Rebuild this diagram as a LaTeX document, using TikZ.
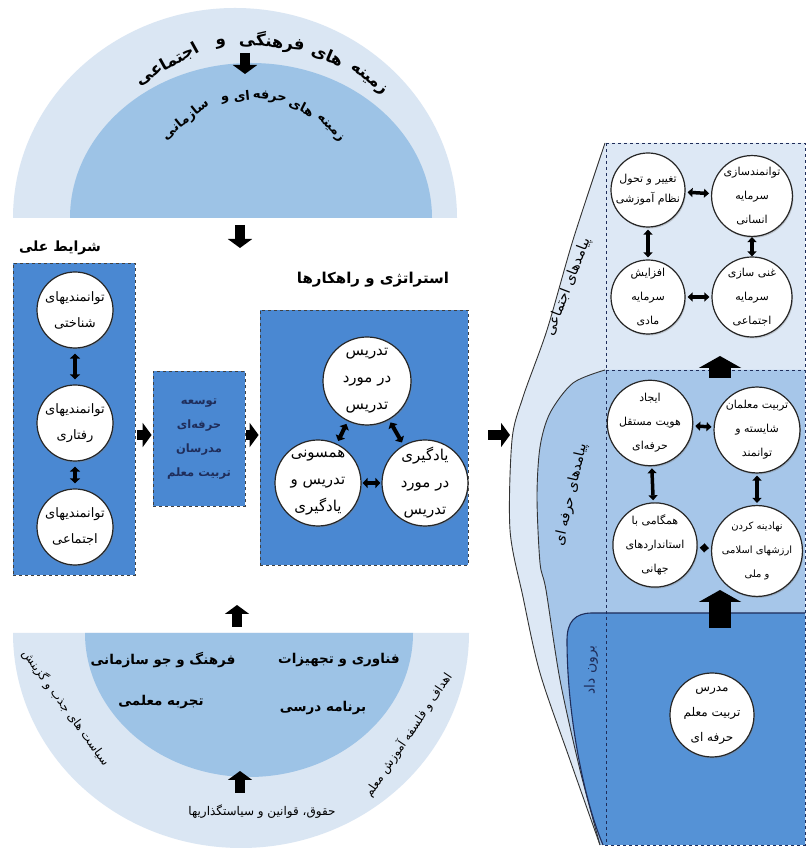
\documentclass[tikz,border=0pt]{standalone}
\usepackage{fontspec}
\usetikzlibrary{arrows.meta,calc,shadows}
\TeXXeTstate=1
\newfontfamily\farsifont[Script=Arabic]{DejaVu Sans}
\newcommand{\FA}[1]{{\farsifont\beginR #1\endR}}
\newcommand{\FB}[1]{{\farsifont\bfseries\beginR #1\endR}}
\definecolor{ringlight}{HTML}{DAE6F3}
\definecolor{ringmed}{HTML}{9DC3E6}
\definecolor{boxblue}{HTML}{4A88D2}
\definecolor{panelmid}{HTML}{A6C6E9}
\definecolor{paneltop}{HTML}{DDE8F5}
\definecolor{panelblue}{HTML}{5592D6}
\definecolor{navy}{HTML}{1F2D5A}
\begin{document}
\begin{tikzpicture}[x=1pt,y=1pt,
  blk/.style={line width=10pt,-{Triangle[width=24pt,length=9pt]}},
  bigup/.style={line width=22pt,-{Triangle[width=42pt,length=12pt]}},
  dbl/.style={line width=4pt,{Triangle[width=10pt,length=5pt]}-{Triangle[width=10pt,length=5pt]},shorten <=5pt,shorten >=5pt},
  dbls/.style={line width=3.5pt,{Triangle[width=9pt,length=5pt]}-{Triangle[width=9pt,length=5pt]},shorten <=2pt,shorten >=2pt},
  panelbox/.style={draw=black!75,dashed,fill=boxblue,line width=0.8pt,inner sep=0pt},
  circ/.style={circle,fill=white,draw=black!85,line width=1.2pt,inner sep=0pt,align=center,
    drop shadow={opacity=0.35,shadow xshift=1pt,shadow yshift=-1.5pt}},
  curveline/.style={draw=black!80,line width=0.9pt},
  dashline/.style={dashed,draw=navy,line width=0.8pt},
  outw/.style={font=\bfseries\fontsize{16.5}{19}\selectfont,inner sep=0pt},
  inw/.style={font=\bfseries\fontsize{13}{15}\selectfont,inner sep=0pt},
  ]
\useasboundingbox (0,0) rectangle (807,848);
\fill[white] (0,0) rectangle (807,848);

% ---------- top half disk ----------
\fill[ringlight] (13,630) arc[start angle=180,end angle=0,x radius=222,y radius=210] -- cycle;
\fill[ringmed] (70,630) arc[start angle=180,end angle=0,x radius=181,y radius=155] -- cycle;
\begin{scope}[shift={(256,624)}]
  \node[outw,rotate=-38] (w1) at (52:183) {\FB{زمینه}};
  \node[outw,rotate=-23] (w2) at (67:183) {\FB{های}};
  \node[outw,rotate=-5] (w3) at (85:183) {\FB{فرهنگی}};
  \node[outw,rotate=11] (w4) at (101:183) {\FB{و}};
  \node[outw,rotate=29] (w5) at (119:183) {\FB{اجتماعی}};
\end{scope}
\begin{scope}[shift={(253,645)}]
  \node[inw,rotate=-46] (v1) at (44:107) {\FB{زمینه}};
  \node[inw,rotate=-27] (v2) at (63:107) {\FB{های}};
  \node[inw,rotate=-9] (v3) at (81:107) {\FB{حرفه}};
  \node[inw,rotate=6] (v4) at (96:107) {\FB{ای}};
  \node[inw,rotate=15] (v5) at (105:107) {\FB{و}};
  \node[inw,rotate=39] (v6) at (129:107) {\FB{سازمانی}};
\end{scope}
\coordinate (ta1) at (245,795); \coordinate (ta2) at (245,774);
\draw[blk] (ta1) -- (ta2);
\coordinate (tb1) at (240,623); \coordinate (tb2) at (240,600);
\draw[blk] (tb1) -- (tb2);

% ---------- left column ----------
\node[font=\bfseries\fontsize{14}{17}\selectfont] (t1) at (60,600) {\FB{شرایط علی}};
\node[panelbox,minimum width=122pt,minimum height=312pt] (lbox) at (74,429) {};
\begin{scope}[every node/.append style={font=\fontsize{13}{26}\selectfont}]
  \node[circ,minimum size=76pt] (c1) at (75,538) {\FA{توانمندیهای}\\\FA{شناختی}};
  \node[circ,minimum size=76pt] (c2) at (75,425) {\FA{توانمندیهای}\\\FA{رفتاری}};
  \node[circ,minimum size=76pt] (c3) at (75,321) {\FA{توانمندیهای}\\\FA{اجتماعی}};
\end{scope}
\draw[dbl] (c1) -- (c2);
\draw[dbl] (c2) -- (c3);

\coordinate (row) at (0,413);
\node[panelbox,minimum width=92pt,minimum height=135pt,text=navy,align=center,
  font=\bfseries\fontsize{11.5}{24}\selectfont] (mbox) at (199,409)
  {\FB{توسعه}\\\FB{حرفه‌ای}\\\FB{مدرسان}\\\FB{تربیت معلم}};
\draw[blk,shorten <=2pt,shorten >=1pt] (lbox.east |- row) -- (mbox.west |- row);

% ---------- strategies ----------
\node[font=\bfseries\fontsize{15}{18}\selectfont] (t2) at (373,568) {\FB{استراتژی و راهکارها}};
\node[panelbox,minimum width=208pt,minimum height=255pt] (sbox) at (364,410.5) {};
\draw[blk,shorten <=1pt,shorten >=1pt] (mbox.east |- row) -- (sbox.west |- row);
\begin{scope}[every node/.append style={font=\fontsize{15}{27}\selectfont}]
  \node[circ,minimum size=88pt] (s1) at (367,467) {\FA{تدریس}\\\FA{در مورد}\\\FA{تدریس}};
  \node[circ,minimum size=86pt] (s2) at (318,365) {\FA{همسونی}\\\FA{تدریس و}\\\FA{یادگیری}};
  \node[circ,minimum size=86pt] (s3) at (425,365) {\FA{یادگیری}\\\FA{در مورد}\\\FA{تدریس}};
\end{scope}
\draw[dbl,shorten <=3pt,shorten >=3pt] (s1) -- (s2);
\draw[dbl,shorten <=3pt,shorten >=3pt] (s1) -- (s3);
\draw[dbl,shorten <=1pt,shorten >=1pt] (s2) -- (s3);

% ---------- right panel ----------
\fill[paneltop] (805,705) -- plot[smooth] coordinates {(605,705) (573,608) (547,518) (523,451) (512,408) (510,318) (523,251) (540,175) (570,88) (600,3)} -- (805,3) -- cycle;
\draw[curveline] plot[smooth] coordinates {(605,705) (573,608) (547,518) (523,451) (512,408) (510,318) (523,251) (540,175) (570,88) (600,3)};
\fill[panelmid] (805,478) -- plot[smooth] coordinates {(605,478) (573,465) (550,435) (540,401) (537,351) (540,285) (546,258) (560,168) (580,78) (600,3)} -- (805,3) -- cycle;
\draw[curveline] plot[smooth] coordinates {(605,478) (573,465) (550,435) (540,401) (537,351) (540,285) (546,258) (560,168) (580,78) (600,3)};
\fill[panelblue] (805,235) -- (592,235) .. controls (575,235) and (567,226) .. (567,208) .. controls (567,130) and (585,45) .. (603,3) -- (805,3) -- cycle;
\draw[navy,line width=1.1pt] (805,235) -- (592,235) .. controls (575,235) and (567,226) .. (567,208) .. controls (567,130) and (585,45) .. (603,3);
\draw[dashline] (606,705) -- (805,705) -- (805,3) -- (603,3);
\draw[dashline] (606,705) -- (606,3);
\draw[dashline] (606,478) -- (805,478);

\coordinate (a5s) at (488,413); \coordinate (rp) at (510,413);
\draw[blk] (a5s) -- (rp);

\node[font=\fontsize{14}{16}\selectfont,rotate=69] (l1) at (568,561) {\FA{پیامدهای اجتماعی}};
\node[font=\fontsize{14}{16}\selectfont,rotate=77] (l2) at (571,353) {\FA{پیامدهای حرفه ای}};
\node[font=\fontsize{14}{16}\selectfont,rotate=90,text=navy] (l3) at (591,178) {\FA{برون داد}};

\begin{scope}[every node/.append style={font=\fontsize{11}{24}\selectfont}]
  \node[circ,minimum size=74pt,font=\fontsize{11}{20}\selectfont] (r1) at (648,658) {\FA{تغییر و تحول}\\\FA{نظام آموزشی}};
  \node[circ,minimum size=80pt] (r2) at (752,652) {\FA{توانمندسازی}\\\FA{سرمایه}\\\FA{انسانی}};
  \node[circ,minimum size=74pt] (r3) at (648,551) {\FA{افزایش}\\\FA{سرمایه}\\\FA{مادی}};
  \node[circ,minimum size=80pt] (r4) at (752,551) {\FA{غنی سازی}\\\FA{سرمایه}\\\FA{اجتماعی}};
  \node[circ,minimum size=76pt] (m1) at (650,425) {\FA{ایجاد}\\\FA{هویت مستقل}\\\FA{حرفه‌ای}};
  \node[circ,minimum size=80pt] (m2) at (757,418) {\FA{تربیت معلمان}\\\FA{شایسته و}\\\FA{توانمند}};
  \node[circ,minimum size=74pt] (m3) at (655,303) {\FA{همگامی با}\\\FA{استانداردهای}\\\FA{جهانی}};
  \node[circ,minimum size=80pt,font=\fontsize{10}{24}\selectfont] (m4) at (757,297) {\FA{نهادینه کردن}\\\FA{ارزشهای اسلامی}\\\FA{و ملی}};
  \node[circ,minimum size=84pt,font=\fontsize{12}{25}\selectfont] (b1) at (712,133) {\FA{مدرس}\\\FA{تربیت معلم}\\\FA{حرفه ای}};
\end{scope}
\draw[dbls] (r1) -- (r2);
\draw[dbls] (r1) -- (r3);
\draw[dbls,shorten <=0pt,shorten >=0pt] (r2) -- (r4);
\draw[dbls] (r3) -- (r4);
\draw[dbls] (m1) -- (m2);
\draw[dbls] (m1) -- (m3);
\draw[dbls] (m2) -- (m4);
\draw[dbls] (m3) -- (m4);

\coordinate (u1a) at (720,470); \coordinate (u1b) at (720,492);
\draw[bigup] (u1a) -- (u1b);
\coordinate (u2a) at (720,220); \coordinate (u2b) at (720,258);
\draw[bigup] (u2a) -- (u2b);

% ---------- bottom half disk ----------
\fill[ringlight] (13,215) arc[start angle=180,end angle=360,x radius=228,y radius=215] -- cycle;
\fill[ringmed] (85,215) arc[start angle=180,end angle=360,x radius=164,y radius=144] -- cycle;
\begin{scope}[every node/.append style={font=\bfseries\fontsize{13.5}{16}\selectfont}]
  \node (f1) at (163,188) {\FB{فرهنگ و جو سازمانی}};
  \node (f2) at (339,188) {\FB{فناوری و تجهیزات}};
  \node (f3) at (161,146) {\FB{تجربه معلمی}};
  \node (f4) at (323,140) {\FB{برنامه درسی}};
\end{scope}
\node[font=\fontsize{12}{14}\selectfont] (g1) at (262,36) {\FA{حقوق، قوانین و سیاستگذاریها}};
\node[font=\fontsize{12}{14}\selectfont,rotate=-54,inner sep=0pt] (g2) at (66,140) {\FA{سیاست های جذب و گزینش}};
\node[font=\fontsize{12}{14}\selectfont,rotate=56,inner sep=0pt] (g3) at (408,113) {\FA{اهداف و فلسفه آموزش معلم}};
\coordinate (ub1) at (237,221); \coordinate (ub2) at (237,243);
\draw[blk] (ub1) -- (ub2);
\coordinate (uc1) at (240,55); \coordinate (uc2) at (240,77);
\draw[blk] (uc1) -- (uc2);
\end{tikzpicture}
\end{document}
